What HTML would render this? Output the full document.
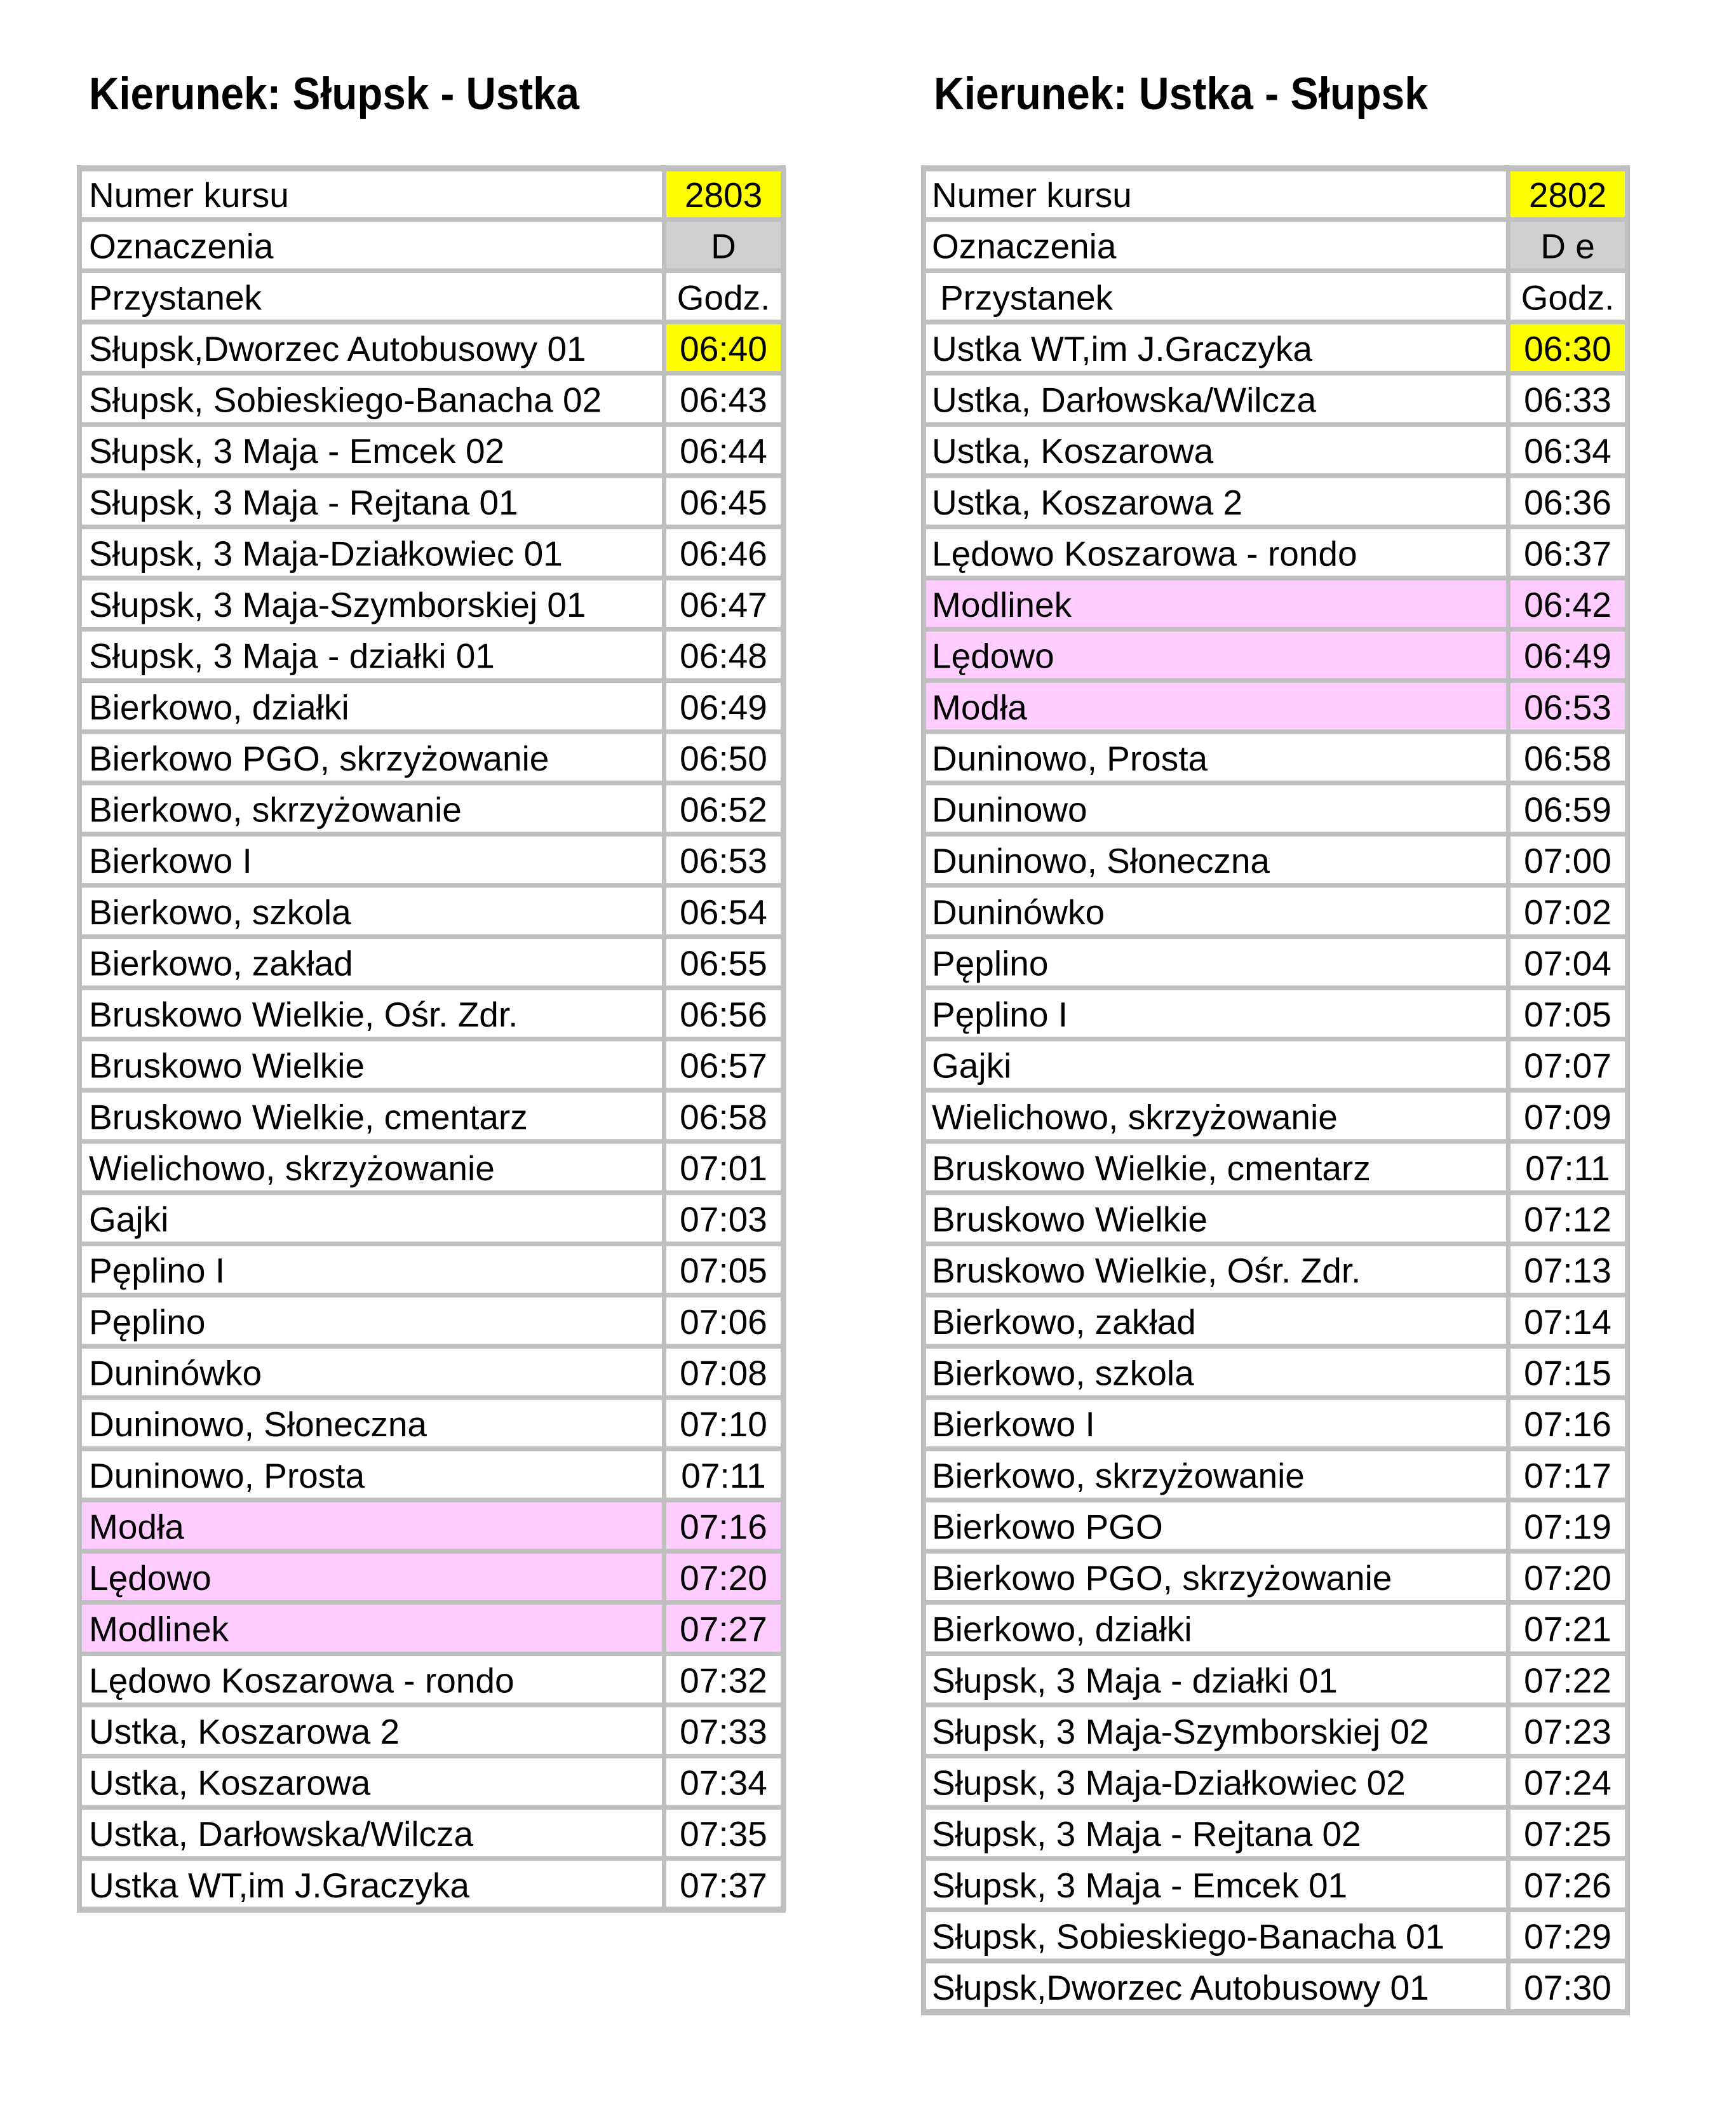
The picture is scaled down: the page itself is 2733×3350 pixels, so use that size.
<!DOCTYPE html>
<html>
<head>
<meta charset="utf-8">
<style>
html,body{margin:0;padding:0;background:#fff;}
svg{display:block;}
text{font-family:"Liberation Sans",Arial,sans-serif;font-size:55px;fill:#000;}
.t{text-anchor:middle;}
.h{font-weight:bold;font-size:71px;}
.ln{stroke:#bfbfbf;fill:none;}
</style>
</head>
<body>
<svg width="2733" height="3350" viewBox="0 0 2733 3350" xmlns="http://www.w3.org/2000/svg">
<rect width="2733" height="3350" fill="#fff"/>

<!-- Titles -->
<text class="h" x="140" y="172" textLength="772" lengthAdjust="spacingAndGlyphs">Kierunek: Słupsk - Ustka</text>
<text class="h" x="1470" y="172" textLength="778" lengthAdjust="spacingAndGlyphs">Kierunek: Ustka - Słupsk</text>

<!-- ============ LEFT TABLE ============ -->
<g>
<rect x="1049" y="268.7" width="180" height="73.2" fill="#ffff00"/>
<rect x="1049" y="349.3" width="180" height="73.2" fill="#d0d0d0"/>
<rect x="1049" y="510.6" width="180" height="73.2" fill="#ffff00"/>
<rect x="129" y="2365.1" width="1100" height="234" fill="#ffccff"/>

<path class="ln" stroke-width="7.4" d="M121 345.63H1237M121 426.26H1237M121 506.89H1237M121 587.52H1237M121 668.15H1237M121 748.78H1237M121 829.41H1237M121 910.04H1237M121 990.67H1237M121 1071.3H1237M121 1151.93H1237M121 1232.56H1237M121 1313.19H1237M121 1393.82H1237M121 1474.45H1237M121 1555.08H1237M121 1635.71H1237M121 1716.34H1237M121 1796.97H1237M121 1877.6H1237M121 1958.23H1237M121 2038.86H1237M121 2119.49H1237M121 2200.12H1237M121 2280.75H1237M121 2361.38H1237M121 2442.01H1237M121 2522.64H1237M121 2603.27H1237M121 2683.9H1237M121 2764.53H1237M121 2845.16H1237M121 2925.79H1237"/>
<path class="ln" stroke-width="9.5" d="M121 265H1237M121 3006.4H1237"/>
<path class="ln" stroke-width="8" d="M125 260V3011M1233 260V3011"/>
<path class="ln" stroke-width="7" d="M1045.5 260V3011"/>

<text x="140" y="326">Numer kursu</text><text class="t" x="1139" y="326">2803</text>
<text x="140" y="406.6">Oznaczenia</text><text class="t" x="1139" y="406.6">D</text>
<text x="140" y="487.3">Przystanek</text><text class="t" x="1139" y="487.3">Godz.</text>
<text x="140" y="567.9">Słupsk,Dworzec Autobusowy 01</text><text class="t" x="1139" y="567.9">06:40</text>
<text x="140" y="648.5">Słupsk, Sobieskiego-Banacha 02</text><text class="t" x="1139" y="648.5">06:43</text>
<text x="140" y="729.2">Słupsk, 3 Maja - Emcek 02</text><text class="t" x="1139" y="729.2">06:44</text>
<text x="140" y="809.8">Słupsk, 3 Maja - Rejtana 01</text><text class="t" x="1139" y="809.8">06:45</text>
<text x="140" y="890.4">Słupsk, 3 Maja-Działkowiec 01</text><text class="t" x="1139" y="890.4">06:46</text>
<text x="140" y="971">Słupsk, 3 Maja-Szymborskiej 01</text><text class="t" x="1139" y="971">06:47</text>
<text x="140" y="1051.7">Słupsk, 3 Maja - działki 01</text><text class="t" x="1139" y="1051.7">06:48</text>
<text x="140" y="1132.3">Bierkowo, działki</text><text class="t" x="1139" y="1132.3">06:49</text>
<text x="140" y="1212.9">Bierkowo PGO, skrzyżowanie</text><text class="t" x="1139" y="1212.9">06:50</text>
<text x="140" y="1293.6">Bierkowo, skrzyżowanie</text><text class="t" x="1139" y="1293.6">06:52</text>
<text x="140" y="1374.2">Bierkowo I</text><text class="t" x="1139" y="1374.2">06:53</text>
<text x="140" y="1454.8">Bierkowo, szkola</text><text class="t" x="1139" y="1454.8">06:54</text>
<text x="140" y="1535.5">Bierkowo, zakład</text><text class="t" x="1139" y="1535.5">06:55</text>
<text x="140" y="1616.1">Bruskowo Wielkie, Ośr. Zdr.</text><text class="t" x="1139" y="1616.1">06:56</text>
<text x="140" y="1696.7">Bruskowo Wielkie</text><text class="t" x="1139" y="1696.7">06:57</text>
<text x="140" y="1777.3">Bruskowo Wielkie, cmentarz</text><text class="t" x="1139" y="1777.3">06:58</text>
<text x="140" y="1858">Wielichowo, skrzyżowanie</text><text class="t" x="1139" y="1858">07:01</text>
<text x="140" y="1938.6">Gajki</text><text class="t" x="1139" y="1938.6">07:03</text>
<text x="140" y="2019.2">Pęplino I</text><text class="t" x="1139" y="2019.2">07:05</text>
<text x="140" y="2099.9">Pęplino</text><text class="t" x="1139" y="2099.9">07:06</text>
<text x="140" y="2180.5">Duninówko</text><text class="t" x="1139" y="2180.5">07:08</text>
<text x="140" y="2261.1">Duninowo, Słoneczna</text><text class="t" x="1139" y="2261.1">07:10</text>
<text x="140" y="2341.8">Duninowo, Prosta</text><text class="t" x="1139" y="2341.8">07:11</text>
<text x="140" y="2422.4">Modła</text><text class="t" x="1139" y="2422.4">07:16</text>
<text x="140" y="2503">Lędowo</text><text class="t" x="1139" y="2503">07:20</text>
<text x="140" y="2583.6">Modlinek</text><text class="t" x="1139" y="2583.6">07:27</text>
<text x="140" y="2664.3">Lędowo Koszarowa - rondo</text><text class="t" x="1139" y="2664.3">07:32</text>
<text x="140" y="2744.9">Ustka, Koszarowa 2</text><text class="t" x="1139" y="2744.9">07:33</text>
<text x="140" y="2825.5">Ustka, Koszarowa</text><text class="t" x="1139" y="2825.5">07:34</text>
<text x="140" y="2906.2">Ustka, Darłowska/Wilcza</text><text class="t" x="1139" y="2906.2">07:35</text>
<text x="140" y="2986.8">Ustka WT,im J.Graczyka</text><text class="t" x="1139" y="2986.8">07:37</text>
</g>

<!-- ============ RIGHT TABLE ============ -->
<g transform="translate(1329,0)">
<rect x="1049" y="268.7" width="180" height="73.2" fill="#ffff00"/>
<rect x="1049" y="349.3" width="180" height="73.2" fill="#d0d0d0"/>
<rect x="1049" y="510.6" width="180" height="73.2" fill="#ffff00"/>
<rect x="129" y="913.7" width="1100" height="234" fill="#ffccff"/>

<path class="ln" stroke-width="7.4" d="M121 345.63H1237M121 426.26H1237M121 506.89H1237M121 587.52H1237M121 668.15H1237M121 748.78H1237M121 829.41H1237M121 910.04H1237M121 990.67H1237M121 1071.3H1237M121 1151.93H1237M121 1232.56H1237M121 1313.19H1237M121 1393.82H1237M121 1474.45H1237M121 1555.08H1237M121 1635.71H1237M121 1716.34H1237M121 1796.97H1237M121 1877.6H1237M121 1958.23H1237M121 2038.86H1237M121 2119.49H1237M121 2200.12H1237M121 2280.75H1237M121 2361.38H1237M121 2442.01H1237M121 2522.64H1237M121 2603.27H1237M121 2683.9H1237M121 2764.53H1237M121 2845.16H1237M121 2925.79H1237M121 3006.42H1237M121 3087.05H1237"/>
<path class="ln" stroke-width="9.5" d="M121 265H1237M121 3167.7H1237"/>
<path class="ln" stroke-width="8" d="M125 260V3172M1233 260V3172"/>
<path class="ln" stroke-width="7" d="M1045.5 260V3172"/>

<text x="138" y="326">Numer kursu</text><text class="t" x="1139" y="326">2802</text>
<text x="138" y="406.6">Oznaczenia</text><text class="t" x="1139" y="406.6">D e</text>
<text x="151" y="487.3">Przystanek</text><text class="t" x="1139" y="487.3">Godz.</text>
<text x="138" y="567.9">Ustka WT,im J.Graczyka</text><text class="t" x="1139" y="567.9">06:30</text>
<text x="138" y="648.5">Ustka, Darłowska/Wilcza</text><text class="t" x="1139" y="648.5">06:33</text>
<text x="138" y="729.2">Ustka, Koszarowa</text><text class="t" x="1139" y="729.2">06:34</text>
<text x="138" y="809.8">Ustka, Koszarowa 2</text><text class="t" x="1139" y="809.8">06:36</text>
<text x="138" y="890.4">Lędowo Koszarowa - rondo</text><text class="t" x="1139" y="890.4">06:37</text>
<text x="138" y="971">Modlinek</text><text class="t" x="1139" y="971">06:42</text>
<text x="138" y="1051.7">Lędowo</text><text class="t" x="1139" y="1051.7">06:49</text>
<text x="138" y="1132.3">Modła</text><text class="t" x="1139" y="1132.3">06:53</text>
<text x="138" y="1212.9">Duninowo, Prosta</text><text class="t" x="1139" y="1212.9">06:58</text>
<text x="138" y="1293.6">Duninowo</text><text class="t" x="1139" y="1293.6">06:59</text>
<text x="138" y="1374.2">Duninowo, Słoneczna</text><text class="t" x="1139" y="1374.2">07:00</text>
<text x="138" y="1454.8">Duninówko</text><text class="t" x="1139" y="1454.8">07:02</text>
<text x="138" y="1535.5">Pęplino</text><text class="t" x="1139" y="1535.5">07:04</text>
<text x="138" y="1616.1">Pęplino I</text><text class="t" x="1139" y="1616.1">07:05</text>
<text x="138" y="1696.7">Gajki</text><text class="t" x="1139" y="1696.7">07:07</text>
<text x="138" y="1777.3">Wielichowo, skrzyżowanie</text><text class="t" x="1139" y="1777.3">07:09</text>
<text x="138" y="1858">Bruskowo Wielkie, cmentarz</text><text class="t" x="1139" y="1858">07:11</text>
<text x="138" y="1938.6">Bruskowo Wielkie</text><text class="t" x="1139" y="1938.6">07:12</text>
<text x="138" y="2019.2">Bruskowo Wielkie, Ośr. Zdr.</text><text class="t" x="1139" y="2019.2">07:13</text>
<text x="138" y="2099.9">Bierkowo, zakład</text><text class="t" x="1139" y="2099.9">07:14</text>
<text x="138" y="2180.5">Bierkowo, szkola</text><text class="t" x="1139" y="2180.5">07:15</text>
<text x="138" y="2261.1">Bierkowo I</text><text class="t" x="1139" y="2261.1">07:16</text>
<text x="138" y="2341.8">Bierkowo, skrzyżowanie</text><text class="t" x="1139" y="2341.8">07:17</text>
<text x="138" y="2422.4">Bierkowo PGO</text><text class="t" x="1139" y="2422.4">07:19</text>
<text x="138" y="2503">Bierkowo PGO, skrzyżowanie</text><text class="t" x="1139" y="2503">07:20</text>
<text x="138" y="2583.6">Bierkowo, działki</text><text class="t" x="1139" y="2583.6">07:21</text>
<text x="138" y="2664.3">Słupsk, 3 Maja - działki 01</text><text class="t" x="1139" y="2664.3">07:22</text>
<text x="138" y="2744.9">Słupsk, 3 Maja-Szymborskiej 02</text><text class="t" x="1139" y="2744.9">07:23</text>
<text x="138" y="2825.5">Słupsk, 3 Maja-Działkowiec 02</text><text class="t" x="1139" y="2825.5">07:24</text>
<text x="138" y="2906.2">Słupsk, 3 Maja - Rejtana 02</text><text class="t" x="1139" y="2906.2">07:25</text>
<text x="138" y="2986.8">Słupsk, 3 Maja - Emcek 01</text><text class="t" x="1139" y="2986.8">07:26</text>
<text x="138" y="3067.4">Słupsk, Sobieskiego-Banacha 01</text><text class="t" x="1139" y="3067.4">07:29</text>
<text x="138" y="3148.1">Słupsk,Dworzec Autobusowy 01</text><text class="t" x="1139" y="3148.1">07:30</text>
</g>
</svg>
</body>
</html>
